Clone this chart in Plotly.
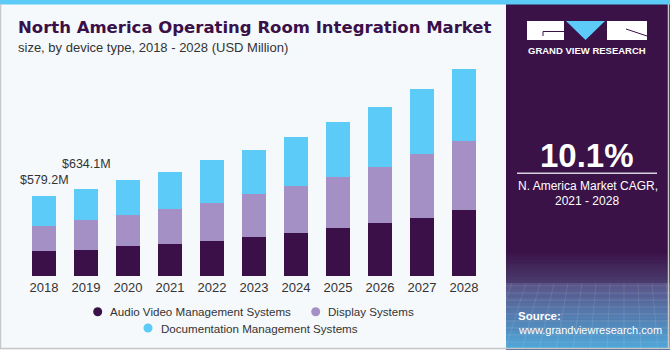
import plotly.graph_objects as go

years = ["2018", "2019", "2020", "2021", "2022", "2023", "2024", "2025", "2026", "2027", "2028"]
audio_video = [179, 191, 220, 230, 256, 281, 314, 350, 382, 420, 476]
display = [185, 214, 223, 254, 271, 316, 339, 365, 408, 464, 502]
documentation = [215, 229, 254, 273, 314, 317, 357, 399, 437, 473, 520]
series_names = ["Audio Video Management Systems", "Display Systems", "Documentation Management Systems"]
series_colors = ["#3b1049", "#a490c5", "#5ccbf7"]
value_labels = {"2018": "$579.2M", "2019": "$634.1M"}
label_shift = {"2018": 7, "2019": 16}

W, H = 670, 350
L, R, T, B = 23, 185, 60, 74
PW, PH = W - L - R, H - T - B
FONT = "Liberation Sans, Arial"


def px(x):
    return (x - L) / PW


def py(y):
    return (H - B - y) / PH


fig = go.Figure()
for name, vals, col in zip(series_names, [audio_video, display, documentation], series_colors):
    fig.add_trace(go.Bar(x=years, y=vals, name=name, marker=dict(color=col, line=dict(width=0)),
                         width=0.57, hoverinfo="x+y+name"))

totals = [a + b + c for a, b, c in zip(audio_video, display, documentation)]
annotations = []
for i, (yr, tot) in enumerate(zip(years, totals)):
    if yr in value_labels:
        annotations.append(dict(x=i, y=tot, xref="x", yref="y", text=value_labels[yr], showarrow=False,
                                xanchor="center", yanchor="bottom", yshift=label_shift[yr],
                                font=dict(family=FONT, size=12.5, color="#333333")))

# Title & subtitle
annotations.append(dict(x=px(16), y=py(27), xref="paper", yref="paper", xanchor="left", yanchor="middle",
                        text="<b>North America Operating Room Integration Market</b>", showarrow=False,
                        font=dict(family="DejaVu Sans", size=16.5, color="#3b1049")))
annotations.append(dict(x=px(16), y=py(47.5), xref="paper", yref="paper", xanchor="left", yanchor="middle",
                        text="size, by device type, 2018 - 2028 (USD Million)", showarrow=False,
                        font=dict(family=FONT, size=13, color="#333333")))

# Panel texts
panel_texts = [
    dict(x=px(587), y=py(51), text="<b>GRAND VIEW RESEARCH</b>",
         font=dict(family=FONT, size=9.5, color="#ffffff")),
    dict(x=px(587), y=py(155), text="<b>10.1%</b>",
         font=dict(family=FONT, size=33, color="#ffffff")),
    dict(x=px(588), y=py(186), text="N. America Market CAGR,",
         font=dict(family=FONT, size=12, color="#ffffff")),
    dict(x=px(587), y=py(201), text="2021 - 2028",
         font=dict(family=FONT, size=12, color="#ffffff")),
]
for a in panel_texts:
    a.update(xref="paper", yref="paper", xanchor="center", yanchor="middle", showarrow=False)
annotations += panel_texts
annotations += [
    dict(x=px(516), y=py(316), text="<b>Source:</b>", xref="paper", yref="paper", xanchor="left",
         yanchor="middle", showarrow=False, font=dict(family=FONT, size=11.5, color="#ffffff")),
    dict(x=px(516), y=py(330), text="www.grandviewresearch.com", xref="paper", yref="paper", xanchor="left",
         yanchor="middle", showarrow=False, font=dict(family=FONT, size=11, color="#ffffff")),
]

shapes = []


def rect(x0, y0, x1, y1, color, layer="below"):
    shapes.append(dict(type="rect", xref="paper", yref="paper", x0=px(x0), x1=px(x1), y0=py(y1), y1=py(y0),
                       fillcolor=color, line=dict(width=0), layer=layer))


def hexmix(c1, c2, t):
    a = [int(c1[i:i + 2], 16) for i in (1, 3, 5)]
    b = [int(c2[i:i + 2], 16) for i in (1, 3, 5)]
    return "#" + "".join(f"{round(x + (y - x) * t):02x}" for x, y in zip(a, b))


# Manual legend (circle markers + labels)
legend_pos = [(97.7, 311.7), (315.7, 311.7), (148, 328)]
for (lx, ly), name, col in zip(legend_pos, series_names, series_colors):
    shapes.append(dict(type="circle", xref="paper", yref="paper", x0=px(lx - 4.5), x1=px(lx + 4.5),
                       y0=py(ly + 4.5), y1=py(ly - 4.5), fillcolor=col, line=dict(width=0), layer="above"))
    annotations.append(dict(x=px(lx + 10.5), y=py(ly), xref="paper", yref="paper", xanchor="left",
                            yanchor="middle", text=name, showarrow=False,
                            font=dict(family=FONT, size=11.6, color="#333333")))

# right panel
rect(506, 0, 670, 350, "#3a1248")
n = 10
for i in range(n):
    y0 = 250 + i * 33 / n
    rect(506, y0, 670, y0 + 33 / n + 0.5, hexmix("#3a1248", "#4a3a6c", i / (n - 1)))
n = 20
for i in range(n):
    y0 = 283 + i * 66 / n
    rect(506, y0, 670, y0 + 66 / n + 0.5, hexmix("#5a5488", "#4fa6d8", i / (n - 1)))
# faint grid lines
for i in range(9):
    yy = 286 + i * 7
    shapes.append(dict(type="line", xref="paper", yref="paper", x0=px(506), x1=px(670), y0=py(yy), y1=py(yy),
                       line=dict(color="rgba(255,255,255,0.12)", width=1), layer="below"))
for i in range(12):
    xx = 512 + i * 14
    shapes.append(dict(type="line", xref="paper", yref="paper", x0=px(xx), x1=px(xx - 6 + (i - 6) * 3),
                       y0=py(283), y1=py(350), line=dict(color="rgba(255,255,255,0.1)", width=1), layer="below"))

# logo
rect(527, 21, 564, 40, "#ffffff", layer="above")
shapes.append(dict(type="path", xref="paper", yref="paper", layer="above",
                   path=f"M {px(566)},{py(21)} L {px(605)},{py(21)} L {px(585.5)},{py(40)} Z",
                   fillcolor="#5ccbf7", line=dict(width=0)))
rect(607, 21, 647, 40, "#ffffff", layer="above")
shapes.append(dict(type="path", xref="paper", yref="paper", layer="above",
                   path=f"M {px(564)},{py(31.5)} L {px(543)},{py(31.5)} L {px(543)},{py(36)}",
                   line=dict(color="#3a1248", width=1)))
shapes.append(dict(type="path", xref="paper", yref="paper", layer="above",
                   path=f"M {px(626)},{py(29)} L {px(647)},{py(36)}",
                   line=dict(color="#3a1248", width=1)))
# CAGR underline
shapes.append(dict(type="line", xref="paper", yref="paper", x0=px(517), x1=px(657), y0=py(173.3), y1=py(173.3),
                   line=dict(color="#d8d0e0", width=1.5), layer="above"))
# top strip and borders
rect(0, 0, 670, 4.5, "#5ccbf7", layer="above")
shapes.append(dict(type="line", xref="paper", yref="paper", x0=px(0.5), x1=px(0.5), y0=py(4), y1=py(348.5),
                   line=dict(color="#c8c8c8", width=1.5), layer="above"))
shapes.append(dict(type="line", xref="paper", yref="paper", x0=px(0), x1=px(670), y0=py(348.5), y1=py(348.5),
                   line=dict(color="#c8c8c8", width=1.5), layer="above"))
shapes.append(dict(type="line", xref="paper", yref="paper", x0=px(668.5), x1=px(668.5), y0=py(4), y1=py(348.5),
                   line=dict(color="#c8c8c8", width=1.5), layer="above"))

fig.update_layout(
    width=W, height=H, margin=dict(l=L, r=R, t=T, b=B, autoexpand=False),
    barmode="stack", bargap=0.43, showlegend=False,
    paper_bgcolor="#f5f9fc", plot_bgcolor="#f5f9fc",
    font=dict(family=FONT, size=12, color="#333333"),
    xaxis=dict(type="category", range=[-0.5, 10.5], showgrid=False, showline=False, zeroline=False,
               ticks="", tickfont=dict(size=13, color="#333333"), ticklabelstandoff=2),
    yaxis=dict(range=[0, 1566], visible=False),
    annotations=annotations, shapes=shapes,
)
fig.write_html("out.html")
